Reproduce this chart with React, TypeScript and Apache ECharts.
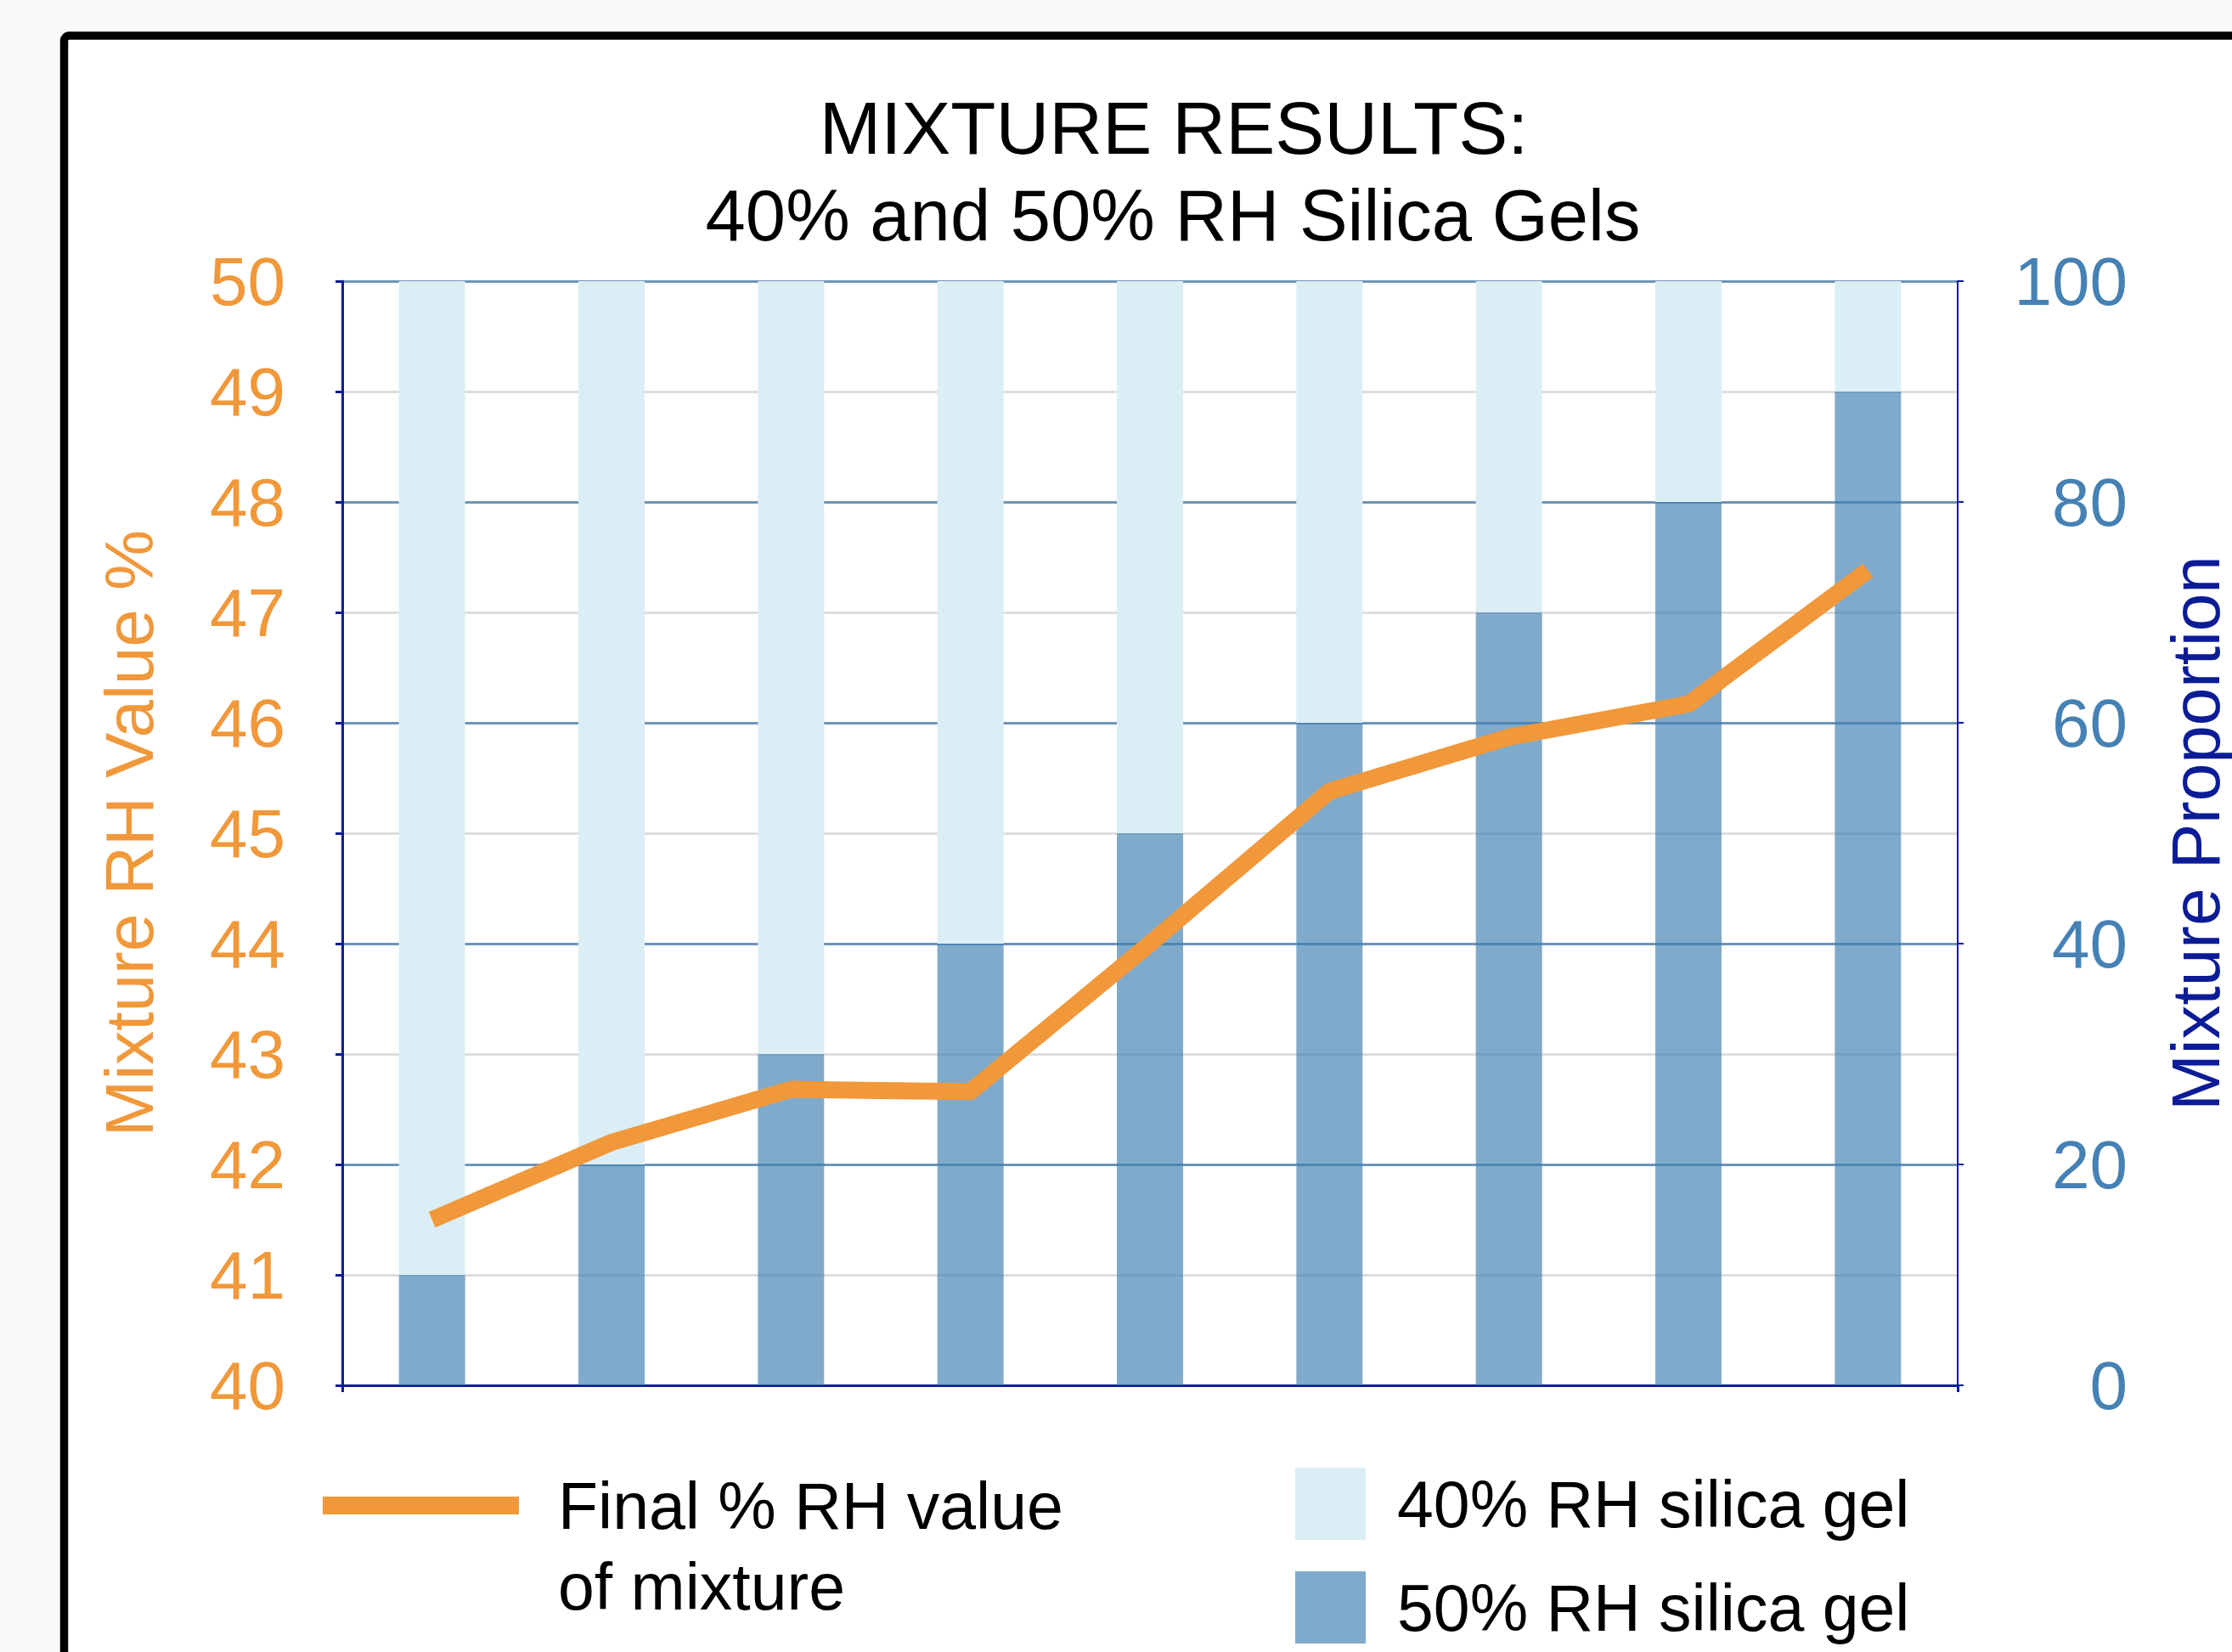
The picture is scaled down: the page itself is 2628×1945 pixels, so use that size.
import React, { useEffect, useRef } from "react";
import * as echarts from "echarts";

const categories = ["10%", "20%", "30%", "40%", "50%", "60%", "70%", "80%", "90%"];
const gel50 = [10, 20, 30, 40, 50, 60, 70, 80, 90];
const gel40 = [90, 80, 70, 60, 50, 40, 30, 20, 10];
const finalRH = [41.5, 42.2, 42.68, 42.66, 44.0, 45.38, 45.87, 46.17, 47.38];

const LINE_NAME = "Final % RH value\nof mixture";
const NAME40 = "40% RH silica gel";
const NAME50 = "50% RH silica gel";

const FONT = "'Liberation Sans', Arial, Helvetica, sans-serif";
const ORANGE = "#F0983A";
const NAVY = "#0B1C96";
const STEEL = "#4681B4";

export default function App() {
  const ref = useRef<HTMLDivElement>(null);
  useEffect(() => {
    if (!ref.current) return;
    const chart = echarts.init(ref.current, null, { renderer: "svg" });
    chart.setOption({
      animation: false,
      backgroundColor: "#FAFAFA",
      textStyle: { fontFamily: FONT },
      graphic: [
        {
          type: "rect",
          z: -10,
          silent: true,
          shape: { x: 75.5, y: 42, width: 3000, height: 3000, r: 6 },
          style: { fill: "#ffffff", stroke: "#000000", lineWidth: 9.5 },
        },
      ],
      title: [
        {
          text: "MIXTURE RESULTS:",
          left: 1382,
          top: 107,
          textAlign: "center",
          padding: 0,
          textStyle: { fontSize: 87, fontWeight: "normal", color: "#000", fontFamily: FONT },
        },
        {
          text: "40% and 50% RH Silica Gels",
          left: 1381,
          top: 211,
          textAlign: "center",
          padding: 0,
          textStyle: { fontSize: 85, fontWeight: "normal", color: "#000", fontFamily: FONT },
        },
      ],
      legend: [
        {
          data: [{ name: LINE_NAME, icon: "rect", itemStyle: { color: ORANGE } }],
          formatter: (name: string) => "\n" + name,
          left: 380,
          top: 1630,
          padding: 0,
          itemWidth: 231,
          itemHeight: 21,
          selectedMode: false,
          textStyle: {
            fontSize: 77,
            lineHeight: 95,
            color: "#000",
            fontFamily: FONT,
            padding: [0, 0, 0, 41],
          },
        },
        {
          data: [
            { name: NAME40, icon: "rect" },
            { name: NAME50, icon: "rect" },
          ],
          orient: "vertical",
          left: 1525,
          top: 1728,
          padding: 0,
          itemWidth: 83,
          itemHeight: 85,
          itemGap: 37,
          selectedMode: false,
          textStyle: {
            fontSize: 77,
            color: "#000",
            fontFamily: FONT,
            padding: [0, 0, 0, 32],
          },
        },
      ],
      grid: {
        left: 403,
        right: 323,
        top: 331,
        bottom: 314,
        containLabel: false,
        outerBoundsMode: "none",
      },
      xAxis: {
        type: "category",
        data: categories,
        boundaryGap: true,
        axisLabel: { show: false },
        axisLine: { lineStyle: { color: NAVY, width: 3 } },
        axisTick: {
          show: true,
          interval: (i: number) => i === 0,
          length: 8,
          lineStyle: { color: NAVY, width: 3 },
        },
        splitLine: { show: false },
      },
      yAxis: [
        {
          type: "value",
          min: 40,
          max: 50,
          interval: 1,
          position: "left",
          name: "Mixture RH Value %",
          nameLocation: "middle",
          nameGap: 211,
          nameTextStyle: { color: ORANGE, fontSize: 80, fontFamily: FONT },
          axisLine: { show: true, lineStyle: { color: NAVY, width: 3 } },
          axisTick: { show: true, length: 8, lineStyle: { color: NAVY, width: 3 } },
          axisLabel: { color: ORANGE, fontSize: 80, margin: 67, fontFamily: FONT },
          splitLine: { show: true, lineStyle: { color: "#DEDEDE", width: 3 } },
        },
        {
          type: "value",
          min: 0,
          max: 100,
          interval: 20,
          position: "right",
          name: "Mixture Proportion",
          nameLocation: "middle",
          nameGap: 240,
          nameTextStyle: { color: NAVY, fontSize: 80, fontFamily: FONT },
          axisLine: { show: true, lineStyle: { color: NAVY, width: 2 } },
          axisTick: { show: true, length: 7, lineStyle: { color: NAVY, width: 2 } },
          axisLabel: { color: STEEL, fontSize: 80, margin: 200, align: "right", fontFamily: FONT },
          splitLine: { show: true, lineStyle: { color: "#6F94B8", width: 3 } },
        },
      ],
      series: [
        {
          name: NAME50,
          type: "bar",
          stack: "mix",
          yAxisIndex: 1,
          barWidth: 78,
          data: gel50,
          itemStyle: { color: "rgba(60,125,175,0.65)" },
        },
        {
          name: NAME40,
          type: "bar",
          stack: "mix",
          yAxisIndex: 1,
          barWidth: 78,
          data: gel40,
          itemStyle: { color: "#DCEEF5" },
        },
        {
          name: LINE_NAME,
          type: "line",
          yAxisIndex: 0,
          data: finalRH,
          color: ORANGE,
          symbol: "none",
          showSymbol: false,
          z: 5,
          lineStyle: { color: ORANGE, width: 20, join: "round", cap: "butt" },
        },
      ],
    });
    return () => chart.dispose();
  }, []);
  return (
    <div
      ref={ref}
      style={{ position: "absolute", left: 0, top: 0, width: 2628, height: 1945 }}
    />
  );
}
